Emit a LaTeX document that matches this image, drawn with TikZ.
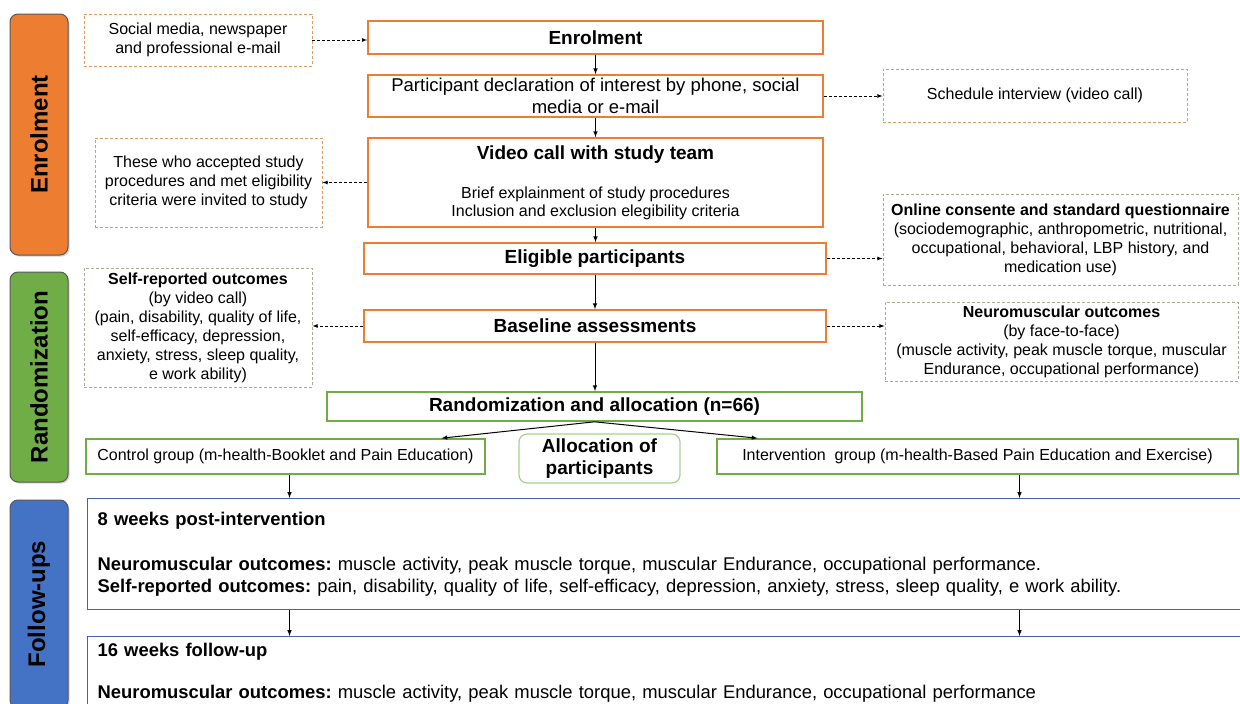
\documentclass[tikz,border=0pt]{standalone}
\usepackage{fontspec}
\setmainfont{Liberation Sans}
\usepackage{tikz}
\usetikzlibrary{arrows, calc, positioning, shadows}
\definecolor{enrolOrange}{RGB}{237,125,49}
\definecolor{dashOrange}{RGB}{226,155,95}
\definecolor{randGreen}{RGB}{112,173,71}
\definecolor{allocGreen}{RGB}{169,209,142}
\definecolor{dashGreen}{RGB}{165,175,145}
\definecolor{fuBlue}{RGB}{68,114,196}
\definecolor{fuLine}{RGB}{70,100,165}
\tikzset{
    phaseBar/.style={rectangle, rounded corners=8pt, draw=black!65, line width=1pt, rotate=90, inner sep=0pt, font=\fontsize{24}{28}\selectfont\bfseries, drop shadow={shadow xshift=1.5pt, shadow yshift=-1.5pt, opacity=0.35}},
    titleText/.style={font=\fontsize{19}{22}\selectfont\bfseries},
    stepOrange/.style={rectangle, draw=enrolOrange, line width=1.6pt, fill=white, inner sep=0pt, align=center, font=\fontsize{18.5}{22}\selectfont},
    stepGreen/.style={rectangle, draw=randGreen, line width=1.6pt, fill=white, inner sep=0pt, align=center, font=\fontsize{16}{19}\selectfont},
    noteOrange/.style={rectangle, draw=dashOrange, dashed, dash pattern=on 3pt off 2pt, line width=0.8pt, inner sep=0pt, align=center, font=\fontsize{16}{19}\selectfont},
    noteGreen/.style={noteOrange, draw=dashGreen},
    fuBox/.style={rectangle, draw=fuLine, line width=1.3pt, fill=white, anchor=north west, inner xsep=10pt, inner ysep=7pt, text width=1150pt, align=left, font=\fontsize{18.4}{22}\selectfont},
    flowEdge/.style={->, >=latex, line width=1pt},
    flowDash/.style={->, >=latex, line width=0.8pt, dashed, dash pattern=on 3pt off 2pt},
}
\newcommand{\stepLink}[2]{
    \draw[flowEdge] (#1) -- (#1 |- #2);
}
\newcommand{\dashLink}[2]{
    \draw[flowDash] (#1) -- (#1 -| #2);
}
\frenchspacing

\begin{document}
\begin{tikzpicture}[x=1pt, y=-1pt]
    \useasboundingbox (0,0) rectangle (1240,704);
    \clip (0,0) rectangle (1240,704);

    % phases
    \node[phaseBar, fill=enrolOrange, minimum width=241pt, minimum height=58pt] (barEnrol) at (39,134.5) {Enrolment};
    \node[phaseBar, fill=randGreen, minimum width=210pt, minimum height=58pt] (barRand) at (39,377) {Randomization};
    \node[phaseBar, fill=fuBlue, minimum width=208pt, minimum height=58pt] (barFollow) at (39,604) {Follow-ups};

    % enrolment steps
    \node[stepOrange, titleText, minimum width=455pt, minimum height=33pt] (enrol) at (595.5,37.5) {Enrolment};
    \node[stepOrange, minimum width=455pt, minimum height=42pt] (declare) at (595.5,96) {Participant declaration of interest by phone, social\\media or e-mail};
    \node[stepOrange, font=\fontsize{16}{18}\selectfont, minimum width=455pt, minimum height=89pt] (video) at (595.5,182.5) {{\fontsize{19}{22}\selectfont\bfseries Video call with study team}\\[21pt]Brief explainment of study procedures\\Inclusion and exclusion elegibility criteria};
    \node[stepOrange, titleText, minimum width=462pt, minimum height=31pt] (eligible) at (595,258.5) {Eligible participants};
    \node[stepOrange, titleText, minimum width=462pt, minimum height=32pt] (baseline) at (595,326) {Baseline assessments};

    \node[noteOrange, minimum width=228pt, minimum height=52pt] (source) at (198,40) {Social media, newspaper\\and professional e-mail};
    \node[noteOrange, minimum width=227pt, minimum height=89pt] (accepted) at (208.5,182.5) {These who accepted study\\procedures and met eligibility\\criteria were invited to study};
    \node[noteOrange, minimum width=304pt, minimum height=53pt] (schedule) at (1035,95.5) {Schedule interview (video call)};
    \node[noteGreen, minimum width=355pt, minimum height=91pt] (consent) at (1060.5,239.5) {\textbf{Online consente and standard questionnaire}\\(sociodemographic, anthropometric, nutritional,\\occupational, behavioral, LBP history, and\\medication use)};
    \node[noteGreen, minimum width=353pt, minimum height=79pt] (neuro) at (1061.5,341.5) {\textbf{Neuromuscular outcomes}\\(by face-to-face)\\(muscle activity, peak muscle torque, muscular\\Endurance, occupational performance)};
    \node[noteGreen, minimum width=228pt, minimum height=119pt] (selfrep) at (198,327.5) {\textbf{Self-reported outcomes}\\(by video call)\\(pain, disability, quality of life,\\self-efficacy, depression,\\anxiety, stress, sleep quality,\\e work ability)};

    % randomization
    \node[stepGreen, titleText, minimum width=535pt, minimum height=29pt] (rand) at (594.5,406.5) {Randomization and allocation (n=66)};
    \node[stepGreen, minimum width=399pt, minimum height=35pt] (control) at (285.5,456.5) {Control group (m-health-Booklet and Pain Education)};
    \node[stepGreen, titleText, draw=allocGreen, rounded corners=8pt, line width=1.2pt, minimum width=161pt, minimum height=49pt] (alloc) at (599.5,458.5) {Allocation of\\participants};
    \node[stepGreen, minimum width=521pt, minimum height=35pt] (interv) at (977.5,456.5) {Intervention\ \ group (m-health-Based Pain Education and Exercise)};
    \coordinate (controlOut) at ([xshift=4pt]control.south);
    \coordinate (intervOut) at ([xshift=42pt]interv.south);

    % follow-ups
    \node[fuBox, minimum height=111pt] (week8) at (87,498) {\textbf{8 weeks post-intervention}\\[23pt]\textbf{Neuromuscular outcomes:} muscle activity, peak muscle torque, muscular Endurance, occupational performance.\\\textbf{Self-reported outcomes:} pain, disability, quality of life, self-efficacy, depression, anxiety, stress, sleep quality, e work ability.};
    \node[fuBox, text depth=70pt] (week16) at (87,636) {\textbf{16 weeks follow-up}\\[20pt]\textbf{Neuromuscular outcomes:} muscle activity, peak muscle torque, muscular Endurance, occupational performance};

    \stepLink{enrol.south}{declare.north}
    \stepLink{declare.south}{video.north}
    \stepLink{video.south}{eligible.north}
    \stepLink{eligible.south}{baseline.north}
    \stepLink{baseline.south}{rand.north}
    \draw[flowEdge] (rand.south) -- ([xshift=156pt]control.north);
    \draw[flowEdge] (rand.south) -- ([xshift=-220pt]interv.north);
    \stepLink{controlOut}{week8.north}
    \stepLink{intervOut}{week8.north}
    \draw[flowEdge] (controlOut |- week8.south) -- (controlOut |- week16.north);
    \draw[flowEdge] (intervOut |- week8.south) -- (intervOut |- week16.north);

    \dashLink{source.east}{enrol.west}
    \dashLink{declare.east}{schedule.west}
    \dashLink{video.west}{accepted.east}
    \dashLink{eligible.east}{consent.west}
    \dashLink{baseline.west}{selfrep.east}
    \dashLink{baseline.east}{neuro.west}
\end{tikzpicture}
\end{document}
